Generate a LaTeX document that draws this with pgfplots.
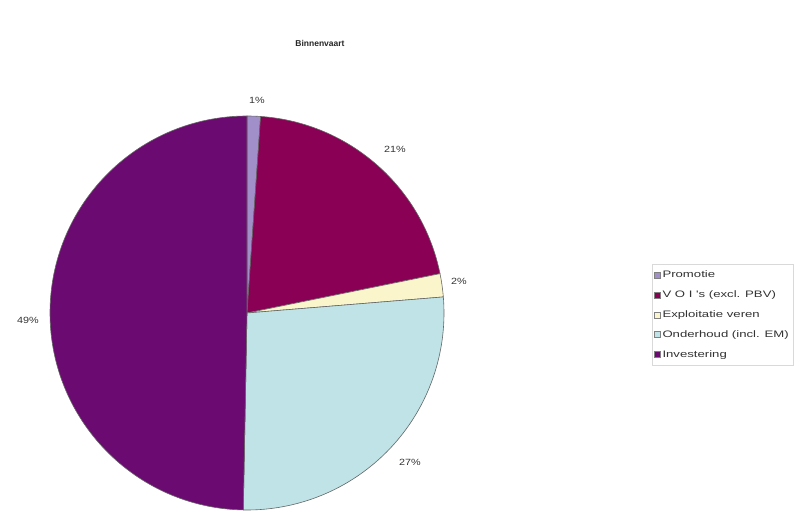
\documentclass[border=0pt]{standalone}
\usepackage{pgfplots}
\pgfplotsset{compat=1.18}
\usepackage{fontspec}
\setmainfont{Liberation Sans}
\newfontfamily\widefont[FakeStretch=1.4]{Liberation Sans}
\newfontfamily\labfont[FakeStretch=1.2]{Liberation Sans}
\definecolor{cProm}{HTML}{A08FC8}
\definecolor{cVOI}{HTML}{8A0055}
\definecolor{cExpl}{HTML}{FBF5CC}
\definecolor{cOnd}{HTML}{BFE3E6}
\definecolor{cInv}{HTML}{6B0A70}
\definecolor{txt}{HTML}{333333}
% slice: start angle, end angle, colour
\newcommand{\slice}[3]{%
  \edef\temp{\noexpand\fill[#3, draw=black!60, line width=0.6pt, line join=round]
    (axis cs:247,198) -- ++(#1:197pt) arc[start angle=#1, end angle=#2, radius=197pt] -- cycle;}%
  \temp}
\begin{document}
\begin{tikzpicture}
\begin{axis}[
  hide axis, scale only axis,
  width=796pt, height=511pt,
  xmin=0, xmax=796, ymin=0, ymax=511,
  clip=false,
  legend style={at={(axis cs:652,247)}, anchor=north west,
    draw=black!15, font=\fontsize{9.4}{10}\selectfont\widefont\color{txt},
    row sep=7.6pt, inner xsep=2pt, inner ysep=4.5pt,
    cells={anchor=west}},
  legend cell align=left,
  legend image code/.code={\draw[#1, draw=black!50, line width=0.3pt] (0pt,-3pt) rectangle (6pt,3pt);},
]
\coordinate (BL) at (axis cs:0,0);
\coordinate (TR) at (axis cs:796,511);
% values (%): Promotie, V O I's, Exploitatie veren, Onderhoud, Investering
% 1.1, 20.7, 1.9, 26.6, 49.7 -> cumulative angles from 90 deg, clockwise
\pgfmathsetmacro{\aA}{90}
\pgfmathsetmacro{\aB}{90-3.6*1.1}
\pgfmathsetmacro{\aC}{90-3.6*(1.1+20.7)}
\pgfmathsetmacro{\aD}{90-3.6*(1.1+20.7+1.9)}
\pgfmathsetmacro{\aE}{90-3.6*(1.1+20.7+1.9+26.6)}
\pgfmathsetmacro{\aF}{90-3.6*100}
\slice{\aA}{\aB}{cProm}
\slice{\aB}{\aC}{cVOI}
\slice{\aC}{\aD}{cExpl}
\slice{\aD}{\aE}{cOnd}
\slice{\aE}{\aF}{cInv}
\addlegendimage{fill=cProm}\addlegendentry{Promotie}
\addlegendimage{fill=cVOI}\addlegendentry{V O I 's (excl. PBV)}
\addlegendimage{fill=cExpl}\addlegendentry{Exploitatie veren}
\addlegendimage{fill=cOnd}\addlegendentry{Onderhoud (incl. EM)}
\addlegendimage{fill=cInv}\addlegendentry{Investering}
\node[font=\fontsize{8.5}{9}\selectfont\bfseries, text=black!85] at (axis cs:320,468) {Binnenvaart};
\node[font=\fontsize{9}{10}\selectfont\labfont, text=txt] at (axis cs:257,411) {1\%};
\node[font=\fontsize{9}{10}\selectfont\labfont, text=txt] at (axis cs:395,362) {21\%};
\node[font=\fontsize{9}{10}\selectfont\labfont, text=txt] at (axis cs:459,230) {2\%};
\node[font=\fontsize{9}{10}\selectfont\labfont, text=txt] at (axis cs:410,49) {27\%};
\node[font=\fontsize{9}{10}\selectfont\labfont, text=txt] at (axis cs:28,191) {49\%};
\end{axis}
\pgfresetboundingbox
\useasboundingbox (BL) rectangle (TR);
\end{tikzpicture}
\end{document}
